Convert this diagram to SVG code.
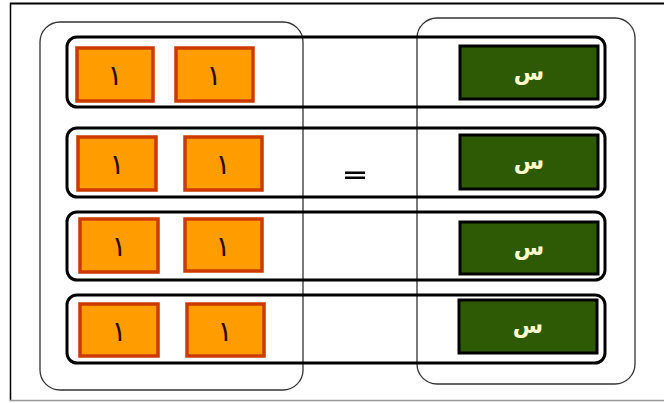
<svg xmlns="http://www.w3.org/2000/svg" width="664" height="403" viewBox="0 0 664 403">
<style>
.bg{fill:#fff}
.grp{fill:none;stroke:#333;stroke-width:1.3}
.row{fill:none;stroke:#000;stroke-width:3}
.one rect{fill:#ff9c00;stroke:#cc3a00;stroke-width:3.5}
.one text{font-family:"DejaVu Sans",sans-serif;font-size:28px;fill:#2a0a00;text-anchor:middle}
.x rect{fill:#2e5a05;stroke:#000;stroke-width:3}
.x text{font-family:"DejaVu Sans","Noto Sans",sans-serif;font-size:22px;font-weight:bold;fill:#ffffcc;text-anchor:middle}
</style>
<rect class="bg" x="0" y="0" width="664" height="403"/>
<g id="frame">
<line x1="10" y1="3.5" x2="664" y2="3.5" stroke="#000" stroke-width="2"/>
<line x1="10.5" y1="3" x2="10.5" y2="401" stroke="#000" stroke-width="1.5"/>
<line x1="10" y1="400.5" x2="664" y2="400.5" stroke="#999" stroke-width="1.5"/>
</g>
<g id="left-group"><rect class="grp" x="40" y="22" width="263" height="368" rx="20"/></g>
<g id="right-group"><rect class="grp" x="417" y="18" width="218" height="366" rx="20"/></g>
<g id="rows">
<rect class="row" x="67" y="37" width="538" height="70" rx="10"/>
<rect class="row" x="67" y="128" width="538" height="69" rx="10"/>
<rect class="row" x="67" y="212" width="538" height="68" rx="10"/>
<rect class="row" x="67" y="295" width="538" height="68" rx="10"/>
</g>
<g id="one-1-1" class="one"><rect x="77" y="48" width="76" height="53"/><text x="115" y="85">١</text></g>
<g id="one-1-2" class="one"><rect x="176" y="48" width="77" height="53"/><text x="214" y="85">١</text></g>
<g id="one-2-1" class="one"><rect x="78" y="137" width="78" height="53"/><text x="117" y="174">١</text></g>
<g id="one-2-2" class="one"><rect x="185" y="137" width="77" height="53"/><text x="223" y="174">١</text></g>
<g id="one-3-1" class="one"><rect x="80" y="219" width="78" height="53"/><text x="119" y="256">١</text></g>
<g id="one-3-2" class="one"><rect x="185" y="219" width="77" height="52"/><text x="223" y="256">١</text></g>
<g id="one-4-1" class="one"><rect x="80" y="304" width="78" height="52"/><text x="119" y="341">١</text></g>
<g id="one-4-2" class="one"><rect x="187" y="304" width="77" height="52"/><text x="225" y="341">١</text></g>
<g id="equals"><rect x="345" y="171.5" width="20" height="2.5" fill="#000"/><rect x="345" y="176.5" width="20" height="2.5" fill="#000"/></g>
<g id="x-1" class="x"><rect x="460" y="46" width="138" height="53"/><text x="529" y="80">س</text></g>
<g id="x-2" class="x"><rect x="460" y="135" width="138" height="54"/><text x="529" y="169">س</text></g>
<g id="x-3" class="x"><rect x="460" y="222" width="138" height="52"/><text x="529" y="255">س</text></g>
<g id="x-4" class="x"><rect x="459" y="300" width="138" height="53"/><text x="528" y="333">س</text></g>
</svg>
